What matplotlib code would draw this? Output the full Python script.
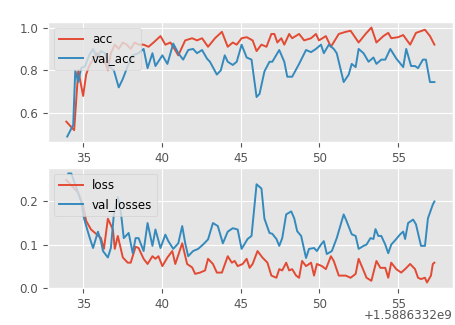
import numpy as np
import matplotlib
matplotlib.use("Agg")
import matplotlib.pyplot as plt

plt.style.use('ggplot')
plt.rcParams['font.size'] = 8.6
plt.rcParams['lines.linewidth'] = 1.4

# time stamps are seconds after t0 (epoch seconds)
t0 = 1588633200

acc_t = [33.93, 34.43, 34.69, 35.00, 35.19, 35.38, 35.63, 35.88, 36.13, 36.38,
         36.57, 36.76, 37.01, 37.26, 37.52, 37.77, 38.02, 38.27, 38.52, 38.84,
         39.15, 39.47, 39.91, 40.22, 40.54, 40.72, 41.04, 41.48, 41.92, 42.23,
         42.55, 42.93, 43.37, 43.81, 44.18, 44.50, 44.75, 45.06, 45.38, 45.76,
         46.01, 46.32, 46.64, 46.95, 47.14, 47.33, 47.58, 47.77, 48.08, 48.27,
         48.71, 49.03, 49.47, 49.78, 49.97, 50.41, 50.73, 51.23, 51.67, 51.98,
         52.49, 52.93, 53.30, 53.62, 54.06, 54.37, 54.56, 55.00, 55.32, 55.76,
         56.13, 56.70, 57.02, 57.30]
acc = [0.56, 0.52, 0.80, 0.68, 0.78, 0.82, 0.85, 0.88, 0.86, 0.84,
       0.80, 0.88, 0.92, 0.90, 0.93, 0.92, 0.90, 0.93, 0.92, 0.92,
       0.91, 0.93, 0.96, 0.92, 0.93, 0.91, 0.87, 0.94, 0.95, 0.94,
       0.95, 0.91, 0.95, 0.98, 0.91, 0.93, 0.92, 0.95, 0.955, 0.94,
       0.89, 0.92, 0.91, 0.97, 0.97, 0.93, 0.95, 0.92, 0.97, 0.95,
       0.97, 0.94, 0.95, 0.97, 0.94, 0.96, 0.91, 0.97, 0.98, 0.985,
       0.93, 0.97, 1.00, 0.93, 0.96, 0.975, 0.95, 0.955, 0.965, 0.92,
       0.975, 0.99, 0.96, 0.92]

val_acc_t = [33.99, 34.37, 34.50, 34.69, 34.87, 35.13, 35.38, 35.63, 35.88, 36.13,
             36.38, 36.64, 36.95, 37.26, 37.52, 37.83, 38.15, 38.52, 38.84, 39.09,
             39.40, 39.59, 40.03, 40.35, 40.72, 41.04, 41.35, 41.67, 41.98, 42.23,
             42.55, 42.86, 43.05, 43.49, 43.74, 43.99, 44.18, 44.50, 44.75, 45.06,
             45.38, 45.69, 46.01, 46.20, 46.51, 46.83, 47.01, 47.45, 47.77, 47.96,
             48.27, 48.71, 49.15, 49.47, 49.78, 50.10, 50.28, 50.60, 50.91, 51.10,
             51.54, 51.86, 52.05, 52.30, 52.49, 52.80, 53.12, 53.43, 53.62, 53.93,
             54.18, 54.50, 54.88, 55.32, 55.51, 55.82, 56.07, 56.26, 56.57, 56.76,
             57.02, 57.30]
val_acc = [0.49, 0.545, 0.80, 0.745, 0.81, 0.82, 0.87, 0.90, 0.86, 0.89,
           0.88, 0.82, 0.80, 0.72, 0.76, 0.82, 0.87, 0.88, 0.90, 0.81,
           0.88, 0.82, 0.87, 0.83, 0.925, 0.88, 0.85, 0.895, 0.90, 0.88,
           0.895, 0.855, 0.84, 0.78, 0.80, 0.87, 0.84, 0.825, 0.84, 0.92,
           0.86, 0.85, 0.675, 0.69, 0.795, 0.84, 0.84, 0.895, 0.84, 0.77,
           0.77, 0.83, 0.895, 0.885, 0.90, 0.92, 0.88, 0.92, 0.90, 0.88,
           0.745, 0.78, 0.83, 0.815, 0.90, 0.88, 0.84, 0.86, 0.83, 0.85,
           0.85, 0.90, 0.855, 0.815, 0.90, 0.82, 0.82, 0.81, 0.85, 0.85,
           0.745, 0.745]

loss_t = [33.93, 34.69, 35.00, 35.19, 35.50, 35.82, 36.13, 36.32, 36.57, 36.89,
          37.01, 37.20, 37.52, 37.83, 38.02, 38.33, 38.52, 38.84, 39.09, 39.40,
          39.59, 39.78, 40.03, 40.35, 40.66, 40.85, 41.29, 41.60, 41.92, 42.11,
          42.42, 42.74, 42.93, 43.24, 43.49, 43.81, 44.18, 44.44, 44.62, 44.81,
          45.13, 45.38, 45.57, 45.76, 46.07, 46.38, 46.70, 46.95, 47.27, 47.45,
          47.64, 47.89, 48.08, 48.27, 48.52, 48.71, 48.90, 49.15, 49.47, 49.66,
          49.84, 50.16, 50.41, 50.73, 50.91, 51.23, 51.67, 51.98, 52.30, 52.49,
          52.80, 52.99, 53.30, 53.62, 53.87, 54.18, 54.37, 54.56, 54.88, 55.19,
          55.44, 55.76, 56.07, 56.26, 56.45, 56.70, 56.83, 57.08, 57.20, 57.30]
loss = [0.25, 0.22, 0.19, 0.155, 0.135, 0.125, 0.115, 0.09, 0.16, 0.135,
        0.09, 0.12, 0.07, 0.058, 0.058, 0.095, 0.092, 0.067, 0.055, 0.073,
        0.067, 0.073, 0.05, 0.07, 0.085, 0.055, 0.103, 0.055, 0.047, 0.032,
        0.035, 0.04, 0.067, 0.055, 0.035, 0.035, 0.073, 0.058, 0.062, 0.05,
        0.055, 0.067, 0.046, 0.055, 0.085, 0.07, 0.058, 0.028, 0.023, 0.043,
        0.04, 0.058, 0.04, 0.043, 0.028, 0.023, 0.062, 0.05, 0.058, 0.028,
        0.055, 0.05, 0.043, 0.073, 0.062, 0.028, 0.028, 0.023, 0.032, 0.067,
        0.04, 0.023, 0.016, 0.062, 0.046, 0.046, 0.023, 0.058, 0.043, 0.035,
        0.043, 0.055, 0.043, 0.023, 0.02, 0.023, 0.012, 0.028, 0.055, 0.058]

val_losses_t = [34.06, 34.25, 34.87, 35.06, 35.38, 35.63, 35.94, 36.13, 36.26, 36.57,
                36.76, 36.95, 37.20, 37.39, 37.58, 37.89, 38.15, 38.33, 38.52, 38.84,
                39.09, 39.40, 39.59, 39.91, 40.22, 40.41, 40.72, 41.04, 41.29, 41.48,
                41.67, 41.98, 42.30, 42.61, 42.93, 43.24, 43.55, 43.87, 44.18, 44.50,
                44.81, 45.06, 45.44, 45.69, 46.01, 46.32, 46.51, 46.83, 47.01, 47.27,
                47.45, 47.64, 47.89, 48.21, 48.40, 48.59, 48.84, 49.15, 49.34, 49.66,
                49.84, 50.10, 50.28, 50.47, 50.79, 51.10, 51.54, 51.73, 52.05, 52.30,
                52.49, 52.80, 52.99, 53.24, 53.43, 53.56, 53.74, 53.93, 54.18, 54.37,
                54.56, 54.88, 55.13, 55.32, 55.44, 55.63, 55.95, 56.13, 56.45, 56.70,
                56.89, 57.20, 57.30]
val_losses = [0.265, 0.265, 0.20, 0.16, 0.12, 0.092, 0.13, 0.108, 0.085, 0.07,
              0.092, 0.17, 0.21, 0.177, 0.115, 0.127, 0.08, 0.115, 0.115, 0.085,
              0.15, 0.097, 0.135, 0.092, 0.123, 0.108, 0.09, 0.103, 0.143, 0.103,
              0.073, 0.085, 0.09, 0.10, 0.112, 0.15, 0.143, 0.103, 0.13, 0.138,
              0.135, 0.09, 0.113, 0.12, 0.24, 0.23, 0.16, 0.127, 0.125, 0.113,
              0.097, 0.115, 0.17, 0.177, 0.161, 0.131, 0.12, 0.069, 0.09, 0.092,
              0.085, 0.10, 0.108, 0.078, 0.085, 0.115, 0.17, 0.154, 0.124, 0.12,
              0.09, 0.097, 0.10, 0.115, 0.113, 0.136, 0.12, 0.12, 0.10, 0.08,
              0.10, 0.113, 0.124, 0.13, 0.113, 0.15, 0.158, 0.147, 0.097, 0.097,
              0.161, 0.193, 0.20]

fig = plt.figure(figsize=(4.56, 3.25), dpi=100)
ax1 = fig.add_axes([0.105, 0.563, 0.888, 0.369])
ax2 = fig.add_axes([0.105, 0.114, 0.888, 0.369])

ax1.plot(np.array(acc_t) + t0, acc, label='acc')
ax1.plot(np.array(val_acc_t) + t0, val_acc, label='val_acc')
ax1.legend(loc='upper left')
ax1.xaxis.get_offset_text().set_visible(False)

ax2.plot(np.array(loss_t) + t0, loss, label='loss')
ax2.plot(np.array(val_losses_t) + t0, val_losses, label='val_losses')
ax2.legend(loc='upper left')

# the offset label sits a little higher than matplotlib puts it
fig.canvas.draw()
offset = ax2.xaxis.get_major_formatter().get_offset()
ax2.xaxis.get_offset_text().set_visible(False)
fig.text(0.993, 0.028, offset, ha='right', va='center',
         color=plt.rcParams['xtick.color'], fontsize=8.6)

fig.savefig('out.png')
